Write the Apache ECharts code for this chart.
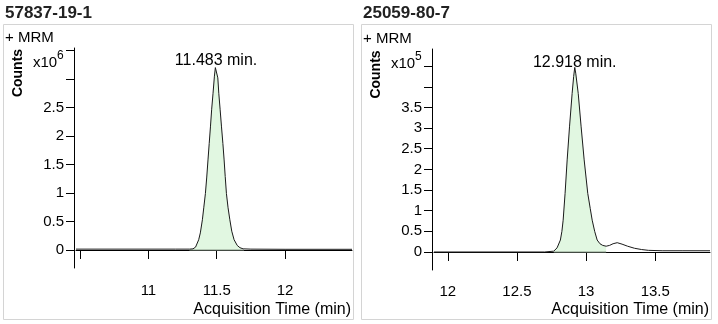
<!DOCTYPE html>
<html><head><meta charset="utf-8">
<script src="https://cdn.jsdelivr.net/npm/echarts@6/dist/echarts.min.js"></script>
<style>html,body{margin:0;padding:0;background:#fff}#c{width:718px;height:324px}</style>
</head><body><div id="c"></div>
<script>
// ---- data ----
const titles = ['57837-19-1', '25059-80-7'];
const peakLabels = ['11.483 min.', '12.918 min.'];
const exponents = ['6', '5'];

// Panel A (Counts x10^6)
const timesA  = [10.47, 11.20, 11.30, 11.326, 11.345, 11.368, 11.38, 11.395, 11.405, 11.417, 11.427, 11.436, 11.445, 11.454, 11.463, 11.473, 11.483, 11.490, 11.495, 11.500, 11.508, 11.515, 11.525, 11.535, 11.545, 11.554, 11.562, 11.571, 11.583, 11.596, 11.61, 11.627, 11.65, 11.67, 11.693, 11.75, 12.0, 12.49];
const countsA = [0.015, 0.015, 0.015, 0.02, 0.05, 0.18, 0.30, 0.53, 0.74, 0.99, 1.28, 1.58, 1.87, 2.16, 2.47, 2.75, 3.05, 3.20, 3.23, 3.20, 3.02, 2.75, 2.46, 2.16, 1.87, 1.58, 1.29, 0.99, 0.74, 0.53, 0.33, 0.18, 0.08, 0.04, 0.02, 0.015, 0.012, 0.012];

// Panel B (Counts x10^5)
const timesB  = [11.9, 12.70, 12.766, 12.79, 12.814, 12.825, 12.834, 12.848, 12.863, 12.880, 12.899, 12.910, 12.918, 12.925, 12.943, 12.964, 12.986, 13.012, 13.030, 13.044, 13.062, 13.080, 13.10, 13.12, 13.145, 13.17, 13.195, 13.225, 13.26, 13.30, 13.35, 13.40, 13.45, 13.55, 13.70, 13.896];
const countsB = [0, 0, 0.02, 0.10, 0.29, 0.50, 0.77, 1.42, 2.23, 3.03, 3.84, 4.25, 4.47, 4.33, 3.84, 3.03, 2.23, 1.42, 1.05, 0.77, 0.50, 0.29, 0.20, 0.16, 0.14, 0.16, 0.20, 0.225, 0.19, 0.14, 0.09, 0.06, 0.04, 0.03, 0.03, 0.03];

// Integration windows (min)
const fillA = [11.30, 11.70];
const fillB = [12.766, 13.145];

// Axis ticks
const xTicksA = [10.5, 11, 11.5, 12];
const xLabelsA = [11, 11.5, 12];
const yTicksA = [0, 0.5, 1, 1.5, 2, 2.5, 3, 3.5];
const yLabelsA = [0, 0.5, 1, 1.5, 2, 2.5];
const xTicksB = [12, 12.5, 13, 13.5];
const xLabelsB = [12, 12.5, 13, 13.5];
const yTicksB = [0, 0.5, 1, 1.5, 2, 2.5, 3, 3.5, 4, 4.5];
const yLabelsB = [0, 0.5, 1, 1.5, 2, 2.5, 3, 3.5];

// ---- build ----
const FONT = 'Liberation Sans, Arial, sans-serif';
function pairs(t, v) { return t.map((x, i) => [x, v[i]]); }
function windowed(t, v, w) { return pairs(t, v).filter(p => p[0] >= w[0] - 1e-9 && p[0] <= w[1] + 1e-9); }
function apex(t, v) { let k = 0; v.forEach((y, i) => { if (y > v[k]) k = i; }); return [t[k], v[k]]; }

const panels = [
  {t: timesA, v: countsA, w: fillA, xt: xTicksA, xl: xLabelsA, yt: yTicksA, yl: yLabelsA,
   grid: {left: 76, top: 48, width: 276, height: 220}, xmin: 10.47, xmax: 12.49, ymin: -0.316, ymax: 3.544, xoff: 3},
  {t: timesB, v: countsB, w: fillB, xt: xTicksB, xl: xLabelsB, yt: yTicksB, yl: yLabelsB,
   grid: {left: 434, top: 49, width: 276, height: 221}, xmin: 11.9, xmax: 13.896, ymin: -0.436, ymax: 4.915, xoff: 2}
];

const axisLine = {show: true, lineStyle: {color: '#000', width: 1}};
const labelStyle = {color: '#000', fontSize: 15, fontFamily: FONT};

const option = {
  animation: false,
  backgroundColor: '#fff',
  grid: panels.map(p => Object.assign({containLabel: false}, p.grid)),
  xAxis: panels.map((p, i) => ({
    type: 'value', gridIndex: i, min: p.xmin, max: p.xmax, offset: p.xoff,
    axisLine: axisLine, splitLine: {show: false},
    axisTick: {show: true, length: 9, inside: false, lineStyle: {color: '#000'}, customValues: p.xt},
    axisLabel: Object.assign({margin: 12, customValues: p.xl}, labelStyle)
  })),
  yAxis: panels.map((p, i) => ({
    type: 'value', gridIndex: i, min: p.ymin, max: p.ymax, offset: 2,
    axisLine: axisLine, splitLine: {show: false},
    axisTick: {show: true, length: 8, lineStyle: {color: '#000'}, customValues: p.yt},
    axisLabel: Object.assign({margin: 10, customValues: p.yl}, labelStyle)
  })),
  series: [],
  graphic: []
};

panels.forEach((p, i) => {
  const ap = apex(p.t, p.v);
  option.series.push({
    type: 'line', xAxisIndex: i, yAxisIndex: i, data: windowed(p.t, p.v, p.w),
    showSymbol: false, symbol: 'none', lineStyle: {width: 0, opacity: 0},
    areaStyle: {color: '#e1f7e1', opacity: 1, origin: 0}, z: 1, silent: true
  });
  option.series.push({
    type: 'line', xAxisIndex: i, yAxisIndex: i, data: [[p.w[0], 0], [p.w[1], 0]],
    showSymbol: false, symbol: 'none', lineStyle: {width: 1, color: '#8a9a8a'}, z: 2, silent: true
  });
  option.series.push({
    type: 'line', xAxisIndex: i, yAxisIndex: i, data: pairs(p.t, p.v),
    showSymbol: false, symbol: 'none', lineStyle: {width: 1, color: '#1a1a1a'}, z: 3, silent: true,
    markPoint: {
      symbol: 'circle', symbolSize: 0, silent: true,
      data: [{coord: ap, label: {show: true, position: 'inside', offset: [0, -5],
        formatter: peakLabels[i], color: '#000', fontSize: 16, fontFamily: FONT}}]
    }
  });
});

const panelX = [3.5, 361.5];
panelX.forEach((x0, i) => {
  option.graphic.push(
    {type: 'rect', shape: {x: x0, y: 24.5, width: 350, height: 295}, style: {fill: 'none', stroke: '#d4d4d4', lineWidth: 1}, silent: true},
    {type: 'text', x: x0 + 1.5, y: 13, style: {text: titles[i], font: 'bold 17px ' + FONT, fill: '#222', textVerticalAlign: 'middle'}},
    {type: 'text', x: x0 + 1.5, y: 38 + i, style: {text: '+ MRM', font: '15px ' + FONT, fill: '#000', textVerticalAlign: 'middle'}},
    {type: 'text', x: x0 + 14.5, y: 73 + i * 1.5, rotation: Math.PI / 2, style: {text: 'Counts', font: 'bold 14px ' + FONT, fill: '#000', textAlign: 'center', textVerticalAlign: 'middle'}},
    {type: 'text', x: x0 + 29.5, y: 63 + i, style: {text: 'x10', font: '15px ' + FONT, fill: '#000', textVerticalAlign: 'middle'}},
    {type: 'text', x: x0 + 53.5, y: 56 + i, style: {text: exponents[i], font: '12px ' + FONT, fill: '#000', textVerticalAlign: 'middle'}},
    {type: 'text', x: x0 + 347.5, y: 310, style: {text: 'Acquisition Time (min)', font: '16px ' + FONT, fill: '#000', textAlign: 'right', textVerticalAlign: 'middle'}}
  );
});

const chart = echarts.init(document.getElementById('c'), null, {renderer: 'canvas'});
chart.setOption(option);
</script>
</body></html>
